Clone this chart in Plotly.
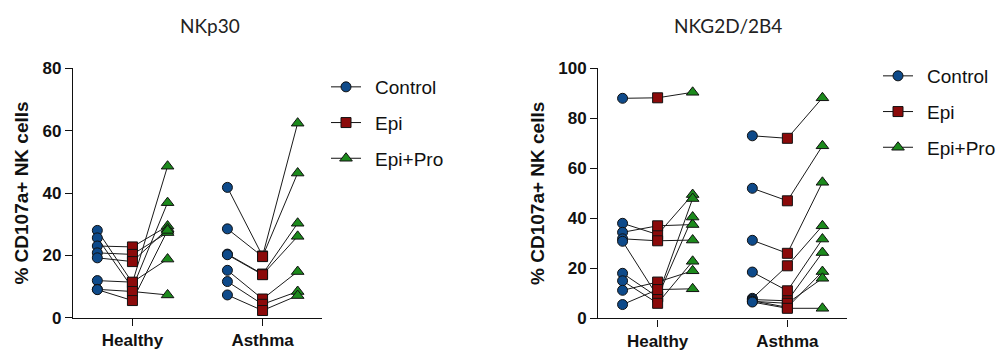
import plotly.graph_objects as go

# Group labels and the two cohorts on the x axis
groups = ["Control", "Epi", "Epi+Pro"]
categories = ["Healthy", "Asthma"]

# NKp30 panel: % CD107a+ NK cells per donor (paired across conditions)
nkp30_healthy_control = [28.0, 25.6, 23.0, 20.8, 19.2, 11.9, 9.1, 9.0]
nkp30_healthy_epi = [11.2, 9.5, 22.7, 20.3, 18.0, 11.4, 8.4, 5.5]
nkp30_healthy_epipro = [48.6, 36.9, 29.4, 27.3, 28.5, 18.8, 7.3, 28.0]

nkp30_asthma_control = [41.8, 28.5, 20.4, 20.2, 15.2, 11.6, 7.3]
nkp30_asthma_epi = [19.8, 19.6, 14.0, 13.8, 6.0, 4.3, 2.3]
nkp30_asthma_epipro = [62.4, 46.4, 30.3, 26.1, 14.8, 8.4, 7.1]

# NKG2D/2B4 panel
nkg2d_healthy_control = [88.0, 38.0, 34.4, 31.8, 30.8, 18.0, 15.0, 11.2, 5.5]
nkg2d_healthy_epi = [88.2, 33.5, 37.0, 31.0, 8.7, 8.5, 6.0, 14.5, 11.5]
nkg2d_healthy_epipro = [90.4, 49.5, 37.5, 31.3, 47.9, 40.5, 22.8, 19.0, 11.8]

nkg2d_asthma_control = [73.0, 52.0, 31.2, 18.5, 8.0, 7.5, 7.0, 6.8, 6.5]
nkg2d_asthma_epi = [72.0, 47.0, 26.0, 11.0, 21.0, 7.0, 4.4, 6.0, 4.0]
nkg2d_asthma_epipro = [88.2, 69.0, 54.4, 31.7, 37.0, 26.3, 18.7, 16.0, 4.0]

panels = [
    {
        "title": "NKp30",
        "ymax": 80,
        "data": {
            "Healthy": [nkp30_healthy_control, nkp30_healthy_epi, nkp30_healthy_epipro],
            "Asthma": [nkp30_asthma_control, nkp30_asthma_epi, nkp30_asthma_epipro],
        },
    },
    {
        "title": "NKG2D/2B4",
        "ymax": 100,
        "data": {
            "Healthy": [nkg2d_healthy_control, nkg2d_healthy_epi, nkg2d_healthy_epipro],
            "Asthma": [nkg2d_asthma_control, nkg2d_asthma_epi, nkg2d_asthma_epipro],
        },
    },
]

colors = {"Control": "#0E4A8A", "Epi": "#8B0A0A", "Epi+Pro": "#1C8A1C"}
symbols = {"Control": "circle", "Epi": "square", "Epi+Pro": "triangle-up"}
sizes = {"Control": 10, "Epi": 10, "Epi+Pro": 11}
offsets = [-0.27, 0.0, 0.27]

W, H = 1000, 356
FONT = "Liberation Sans, Arial, sans-serif"

fig = go.Figure()

for p, panel in enumerate(panels):
    xa = "x" if p == 0 else "x2"
    ya = "y" if p == 0 else "y2"

    # paired connecting lines, one polyline per donor
    lx, ly = [], []
    for ci, cat in enumerate(categories):
        pos = ci + 1
        ctrl, epi, pro = panel["data"][cat]
        for a, b, c in zip(ctrl, epi, pro):
            lx += [pos + offsets[0], pos + offsets[1], pos + offsets[2], None]
            ly += [a, b, c, None]
    fig.add_trace(go.Scatter(
        x=lx, y=ly, mode="lines", xaxis=xa, yaxis=ya,
        line=dict(color="#1a1a1a", width=1), hoverinfo="skip",
        showlegend=False, cliponaxis=False,
    ))

    # markers for each condition
    for gi, g in enumerate(groups):
        mx, my = [], []
        for ci, cat in enumerate(categories):
            vals = panel["data"][cat][gi]
            mx += [ci + 1 + offsets[gi]] * len(vals)
            my += vals
        fig.add_trace(go.Scatter(
            x=mx, y=my, mode="markers", xaxis=xa, yaxis=ya,
            marker=dict(symbol=symbols[g], size=sizes[g], color=colors[g],
                        line=dict(color="#111111", width=1)),
            showlegend=False, cliponaxis=False, name=g,
        ))

    # legend entries (line through marker)
    for g in groups:
        fig.add_trace(go.Scatter(
            x=[None], y=[None], mode="lines+markers", xaxis=xa, yaxis=ya,
            name="\u00a0\u2009" + g, legend="legend" if p == 0 else "legend2",
            legendgroup=f"{p}-{g}",
            line=dict(color="#111111", width=1),
            marker=dict(symbol=symbols[g], size=sizes[g], color=colors[g],
                        line=dict(color="#111111", width=1)),
        ))

axis_common = dict(
    showline=True, linecolor="#111111", linewidth=1.4,
    ticks="outside", ticklen=7, tickwidth=1.4, tickcolor="#111111",
    showgrid=False, zeroline=False, automargin=False,
    tickfont=dict(family=FONT, size=17, color="#111111", weight="bold"),
)

x_domains = [[0.073, 0.322], [0.5983, 0.8467]]
y_domains = [[(H - 317.7) / H, (H - 68.3) / H], [(H - 318.3) / H, (H - 68.3) / H]]

layout = dict(
    width=W, height=H, margin=dict(l=0, r=0, t=0, b=0, autoexpand=False),
    paper_bgcolor="white", plot_bgcolor="white",
    legend=dict(x=0.326, y=(H - 68) / H, xanchor="left", yanchor="top",
                font=dict(family=FONT, size=19, color="#111111"),
                tracegroupgap=8, bgcolor="rgba(0,0,0,0)"),
    legend2=dict(x=0.878, y=(H - 57) / H, xanchor="left", yanchor="top",
                 font=dict(family=FONT, size=19, color="#111111"),
                 tracegroupgap=8, bgcolor="rgba(0,0,0,0)"),
)

for p, panel in enumerate(panels):
    sx = "" if p == 0 else "2"
    layout["xaxis" + sx] = dict(
        axis_common, domain=x_domains[p], range=[0.543, 2.457],
        tickvals=[1, 2], ticktext=categories, anchor="y" + sx,
    )
    layout["yaxis" + sx] = dict(
        axis_common, domain=y_domains[p], range=[0, panel["ymax"]],
        tickvals=list(range(0, panel["ymax"] + 1, 20)), anchor="x" + sx,
        title=dict(text="% CD107a+ NK cells", standoff=8,
                   font=dict(family=FONT, size=19, color="#111111", weight="bold")),
    )

fig.update_layout(**layout)

# panel headings
for cx, panel in zip([210, 728], panels):
    fig.add_annotation(
        x=cx / W, y=(H - 25) / H, xref="paper", yref="paper",
        xanchor="center", yanchor="middle",
        text=panel["title"], showarrow=False,
        font=dict(family="Lato, Open Sans, sans-serif", size=19, color="#222222"),
    )

fig.write_html("out.html")
